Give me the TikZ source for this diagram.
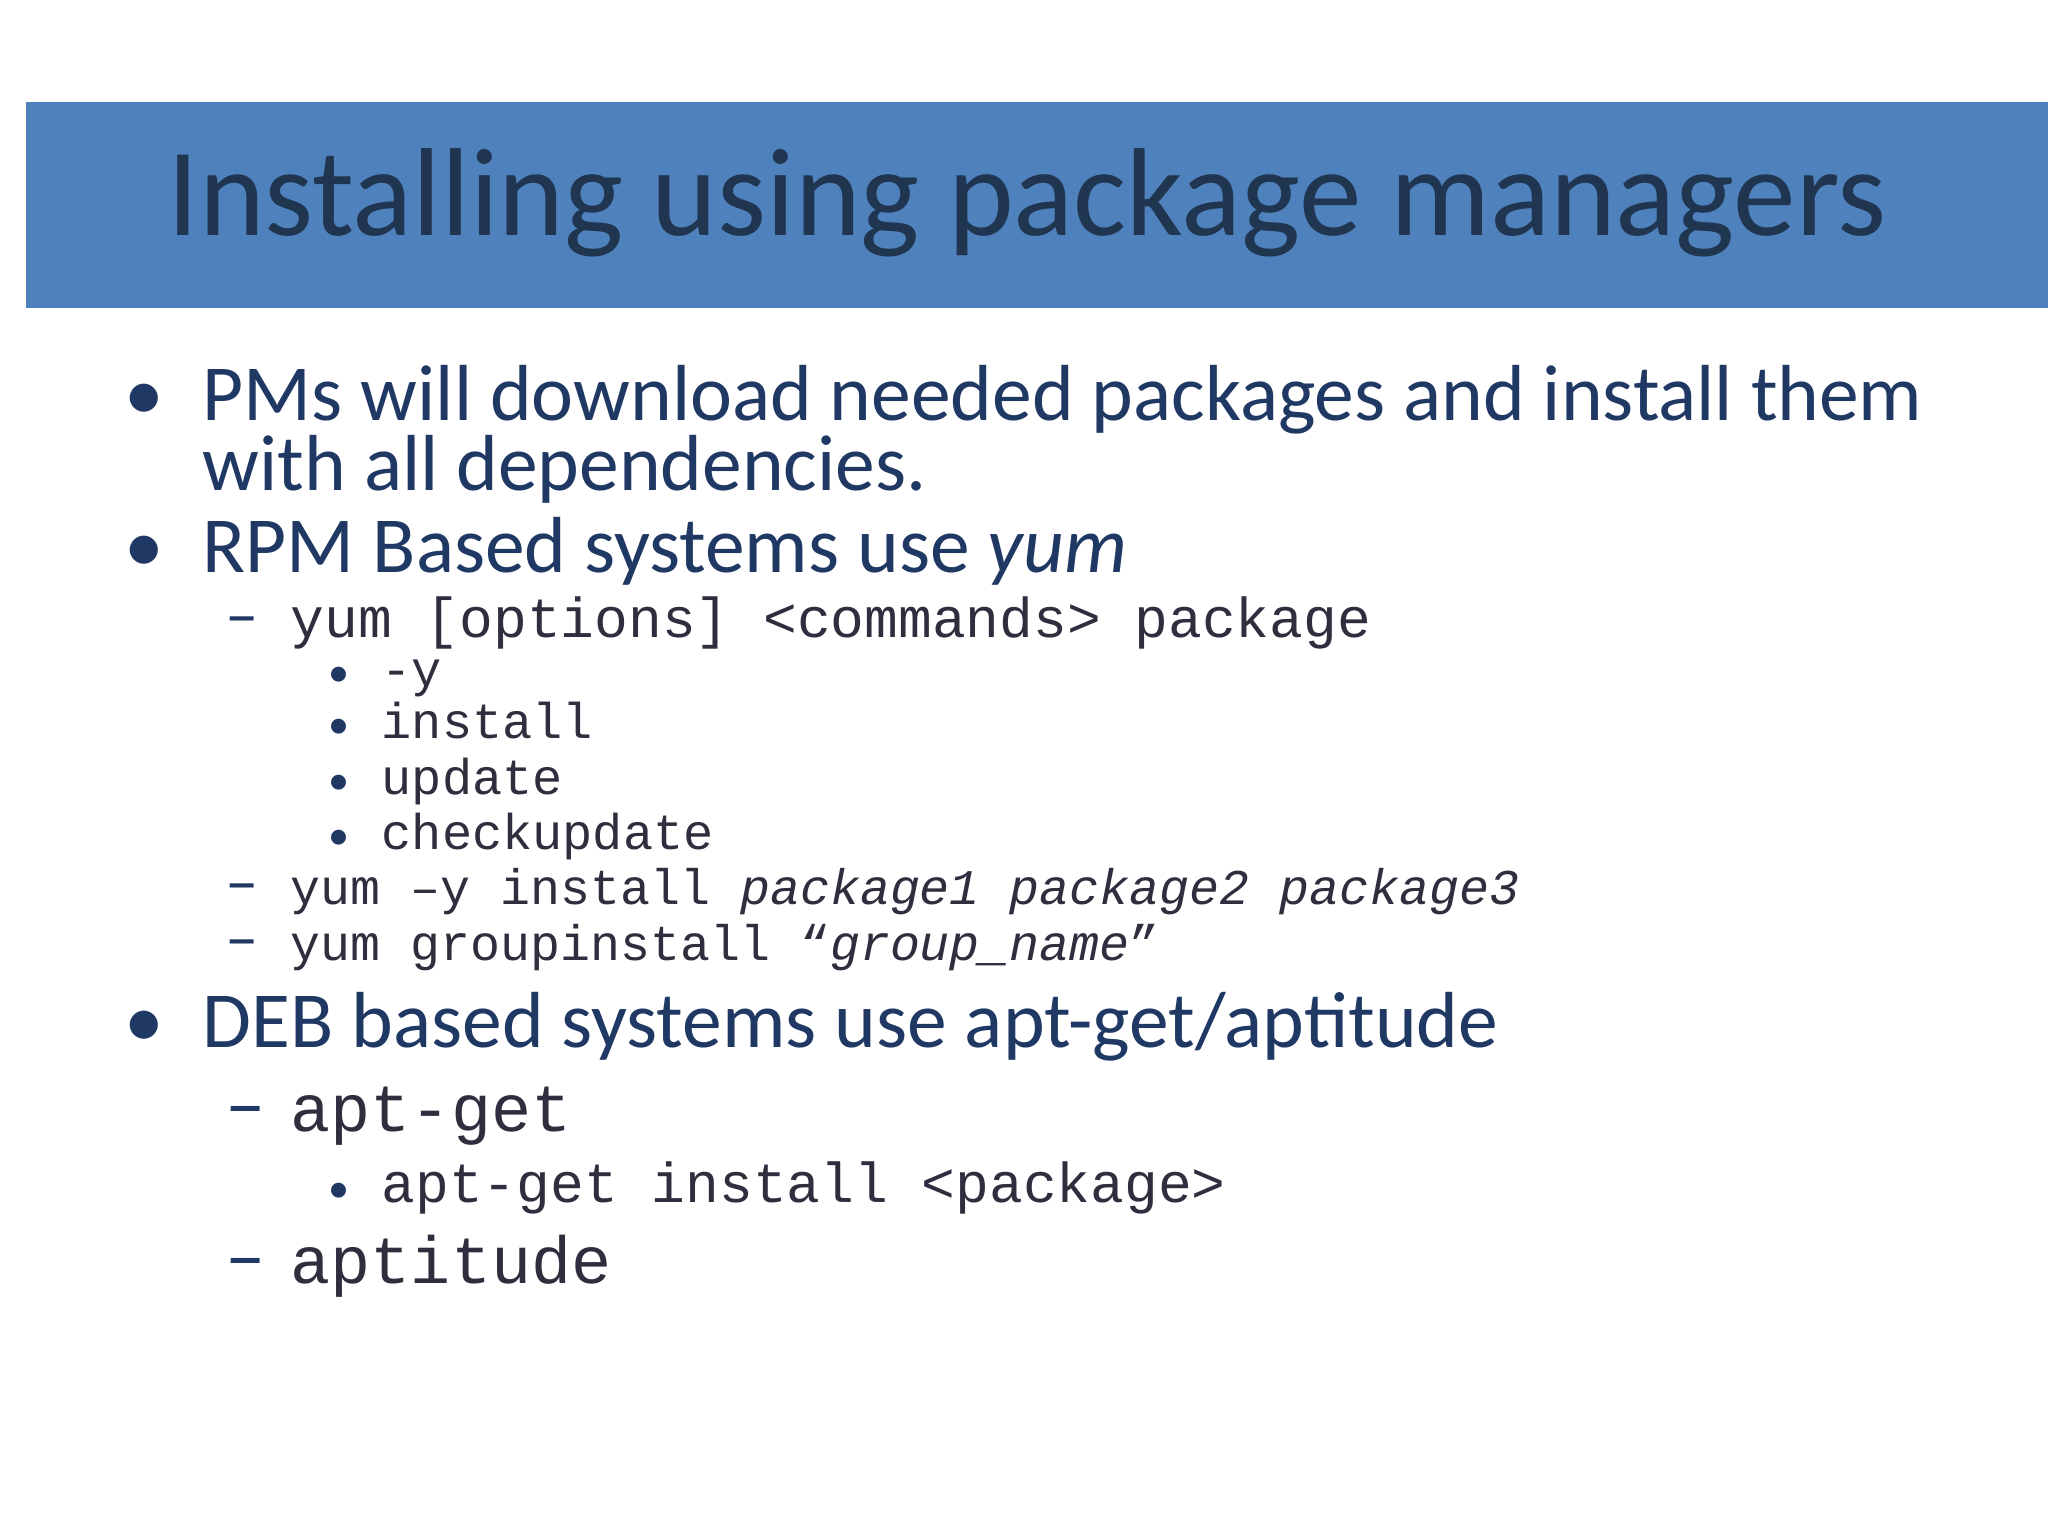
\documentclass[tikz,border=0pt]{standalone}
\usepackage{fontspec}
\setmainfont{Carlito}
\setmonofont{Liberation Mono}
\definecolor{bar}{HTML}{4F81BD}
\definecolor{ttl}{HTML}{1F3550}
\definecolor{body}{HTML}{1F3864}
\definecolor{mono}{HTML}{2E2E3E}
\begin{document}
\begin{tikzpicture}[x=0.01cm,y=-0.01cm,
  t/.style={anchor=base west,inner sep=0pt,text=body},
  l1/.style={t,font=\fontsize{22.6}{27}\selectfont},
  m1/.style={t,text=mono,font=\ttfamily\fontsize{16}{19}\selectfont},
  m4/.style={t,text=mono,font=\ttfamily\fontsize{14.2}{17}\selectfont},
  m2/.style={t,text=mono,font=\ttfamily\fontsize{14.3}{17}\selectfont},
  m3/.style={t,text=mono,font=\ttfamily\fontsize{19}{22}\selectfont},
  dsh/.style={t,font=\fontsize{19}{22}\selectfont},
  sb/.style={t,font=\fontsize{12}{15}\selectfont}]
\useasboundingbox (0,0) rectangle (2048,1536);
\fill[white] (0,0) rectangle (2048,1536);
\fill[bar] (26,102) rectangle (2048,308);
\node[t,text=ttl,font=\fontsize{35.6}{40}\selectfont] (title) at (167,235) {Installing using package managers};
\node[l1] (b1) at (124,420) {•};
\node[l1] (t1) at (202,420) {PMs will download needed packages and install them};
\node[l1] (t1b) at (202,490) {with all dependencies.};
\node[l1] (b2) at (124,572) {•};
\node[l1] (t2) at (202,572) {RPM Based systems use \textit{yum}};
\node[dsh] (d1) at (225,637) {–};
\node[m1] (y1) at (290,637) {yum [options] <commands> package};
\node[sb] (s1) at (328,686) {•};
\node[m2] (y2) at (381,686) {-y};
\node[sb] (s2) at (328,738) {•};
\node[m2] (y3) at (381,738) {install};
\node[sb] (s3) at (328,794) {•};
\node[m2] (y4) at (381,794) {update};
\node[sb] (s4) at (328,849) {•};
\node[m2] (y5) at (381,849) {checkupdate};
\node[dsh] (d2) at (225,904) {–};
\node[m4] (y6) at (290,904) {yum –y install \textit{package1 package2 package3}};
\node[dsh] (d3) at (225,960) {–};
\node[m4] (y7) at (290,960) {yum groupinstall “\textit{group\_name}”};
\node[l1] (b3) at (124,1047) {•};
\node[l1] (t3) at (202,1047) {DEB based systems use apt-get/aptitude};
\node[dsh,font=\fontsize{23}{27}\selectfont] (d4) at (225,1131) {–};
\node[m3] (a1) at (290,1131) {apt-get};
\node[sb] (s5) at (328,1202) {•};
\node[m1] (a2) at (381,1202) {apt-get install <package>};
\node[dsh,font=\fontsize{23}{27}\selectfont] (d5) at (225,1283) {–};
\node[m3] (a3) at (290,1283) {aptitude};
\end{tikzpicture}
\end{document}
